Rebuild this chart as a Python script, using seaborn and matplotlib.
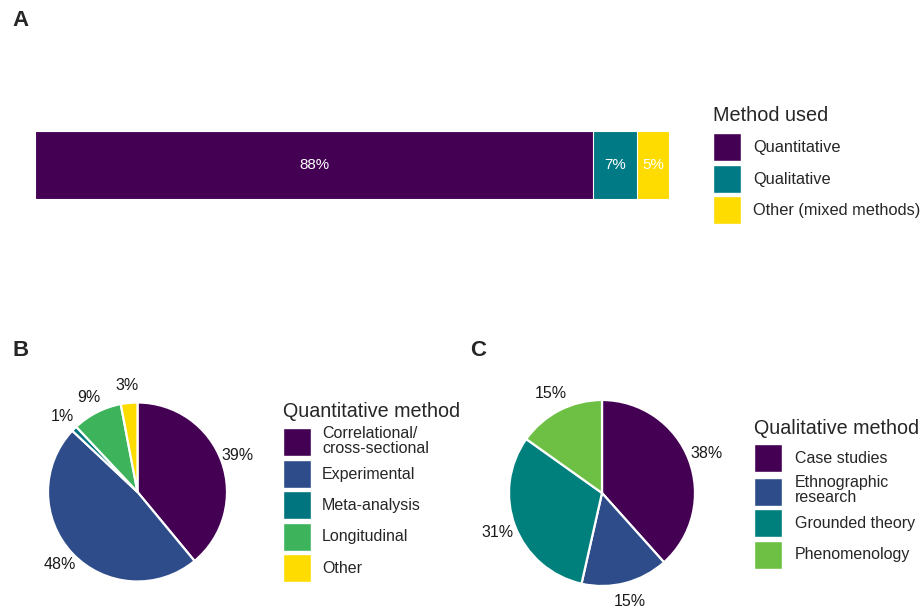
import numpy as np
import pandas as pd
import matplotlib
matplotlib.use("Agg")
import matplotlib.pyplot as plt
from matplotlib.patches import Patch
from matplotlib import font_manager
import seaborn as sns

# ---- data -------------------------------------------------------------
method_labels = ["Quantitative", "Qualitative", "Other (mixed methods)"]
method_pct = [88, 7, 5]
method_colors = ["#440154", "#007A84", "#FFDC00"]

quant_labels = ["Correlational/\ncross-sectional", "Experimental", "Meta-analysis",
                "Longitudinal", "Other"]
quant_pct = [39, 48, 1, 9, 3]
quant_colors = ["#440154", "#2D4C89", "#00747F", "#3DB45B", "#FFDC00"]

qual_labels = ["Case studies", "Ethnographic\nresearch", "Grounded theory", "Phenomenology"]
qual_pct = [38, 15, 31, 15]
qual_colors = ["#440154", "#2D4C89", "#00807C", "#6DC043"]

# ---- style ------------------------------------------------------------
sns.set_theme(style="white")
plt.rcParams["font.family"] = ["Liberation Sans", "DejaVu Sans"]

names = {f.name for f in font_manager.fontManager.ttflist}
if "Liberation Sans Narrow" in names:
    narrow = ["Liberation Sans Narrow", "Liberation Sans", "DejaVu Sans"]
    nscale = 1.0
else:
    narrow = ["Liberation Sans", "DejaVu Sans"]
    nscale = 0.84

W, H = 921, 610
DPI = 100
fig = plt.figure(figsize=(W / DPI, H / DPI), dpi=DPI)
fig.patch.set_facecolor("white")


def px_rect(x0, y0, x1, y1):
    """Figure-fraction rectangle from pixel box (top-left origin)."""
    return [x0 / W, 1 - y1 / H, (x1 - x0) / W, (y1 - y0) / H]


def fx(x):
    return x / W


def fy(y):
    return 1 - y / H


PT = DPI / 72.0  # pixels per point


def make_legend(handles, labels, title, x, y, fs, tfs, key_px, gap_px,
                pad_px, family, title_gap_px=0, linespacing=1.0):
    fpx = fs * PT
    # legend shrinks the handle box by a descent term; invert that so the
    # drawn key is key_px tall
    hh = (key_px / fpx - 0.245) / 0.65
    leg = fig.legend(handles, labels, loc="upper left",
                     bbox_to_anchor=(fx(x), fy(y)), bbox_transform=fig.transFigure,
                     frameon=False, borderpad=0, borderaxespad=0,
                     fontsize=fs, title=title, title_fontsize=tfs,
                     handlelength=key_px / fpx, handleheight=hh,
                     labelspacing=gap_px / fpx, handletextpad=pad_px / fpx,
                     alignment="left", prop={"family": family, "size": fs})
    leg.get_title().set_family(family)
    leg.get_title().set_fontsize(tfs)
    leg._legend_box.sep = title_gap_px / PT
    for t in leg.get_texts():
        t.set_linespacing(linespacing)
    return leg


# ---- panel A: stacked horizontal bar ---------------------------------
axA = fig.add_axes(px_rect(35, 131, 669, 199))
cum = np.cumsum(method_pct)
bar_df = pd.DataFrame({"method": method_labels, "end": cum, "pct": method_pct,
                       "row": ["all"] * len(method_labels)})
for i in reversed(range(len(bar_df))):
    sub = bar_df.iloc[[i]]
    sns.barplot(data=sub, x="end", y="row", orient="h", color=method_colors[i],
                saturation=1, width=1.0, edgecolor="white", linewidth=0.8, ax=axA)
for end, pct in zip(cum, method_pct):
    axA.text(end - pct / 2, 0, f"{pct}%", ha="center", va="center", color="white",
             fontsize=13 * nscale, family=narrow)
axA.set_xlim(0, cum[-1])
axA.set_ylim(0.5, -0.5)
axA.axis("off")

make_legend([Patch(facecolor=c, edgecolor="white") for c in method_colors],
            method_labels, "Method used", 713, 106, 14 * nscale, 17 * nscale,
            28, 3.5, 12, narrow, title_gap_px=8)

fig.text(fx(12), fy(21), "A", fontsize=16, fontweight="bold", va="center", ha="left")


# ---- pie helper -------------------------------------------------------
class ValueLabel:
    def __init__(self, values):
        self.it = iter(values)

    def __call__(self, _):
        return f"{next(self.it)}%"


def pie_panel(cx, cy, r, values, colors, dist):
    half = 135
    ax = fig.add_axes(px_rect(cx - half, cy - half, cx + half, cy + half))
    ax.pie(values, colors=colors, startangle=90, counterclock=False,
           autopct=ValueLabel(values), pctdistance=dist,
           wedgeprops=dict(edgecolor="white", linewidth=1.6),
           textprops=dict(fontsize=11.5, color="#1a1a1a"))
    lim = half / r
    ax.set_xlim(-lim, lim)
    ax.set_ylim(-lim, lim)
    ax.set_aspect("auto")
    ax.axis("off")
    return ax


# ---- panel B ----------------------------------------------------------
pie_panel(137.5, 492, 89.5, quant_pct, quant_colors, 1.19)
make_legend([Patch(facecolor=c, edgecolor="white") for c in quant_colors],
            quant_labels, "Quantitative method", 283, 402, 11.5, 14.2,
            28, 3.5, 11, ["Liberation Sans", "DejaVu Sans"], title_gap_px=5)
fig.text(fx(12), fy(350), "B", fontsize=16, fontweight="bold", va="center", ha="left")

# ---- panel C ----------------------------------------------------------
pie_panel(602, 493, 93, qual_pct, qual_colors, 1.2)
make_legend([Patch(facecolor=c, edgecolor="white") for c in qual_colors],
            qual_labels, "Qualitative method", 754, 419, 11.5, 14.2,
            28, 3.5, 13, ["Liberation Sans", "DejaVu Sans"], title_gap_px=6)
fig.text(fx(470), fy(350), "C", fontsize=16, fontweight="bold", va="center", ha="left")

fig.savefig("out.png", dpi=DPI, facecolor="white")
